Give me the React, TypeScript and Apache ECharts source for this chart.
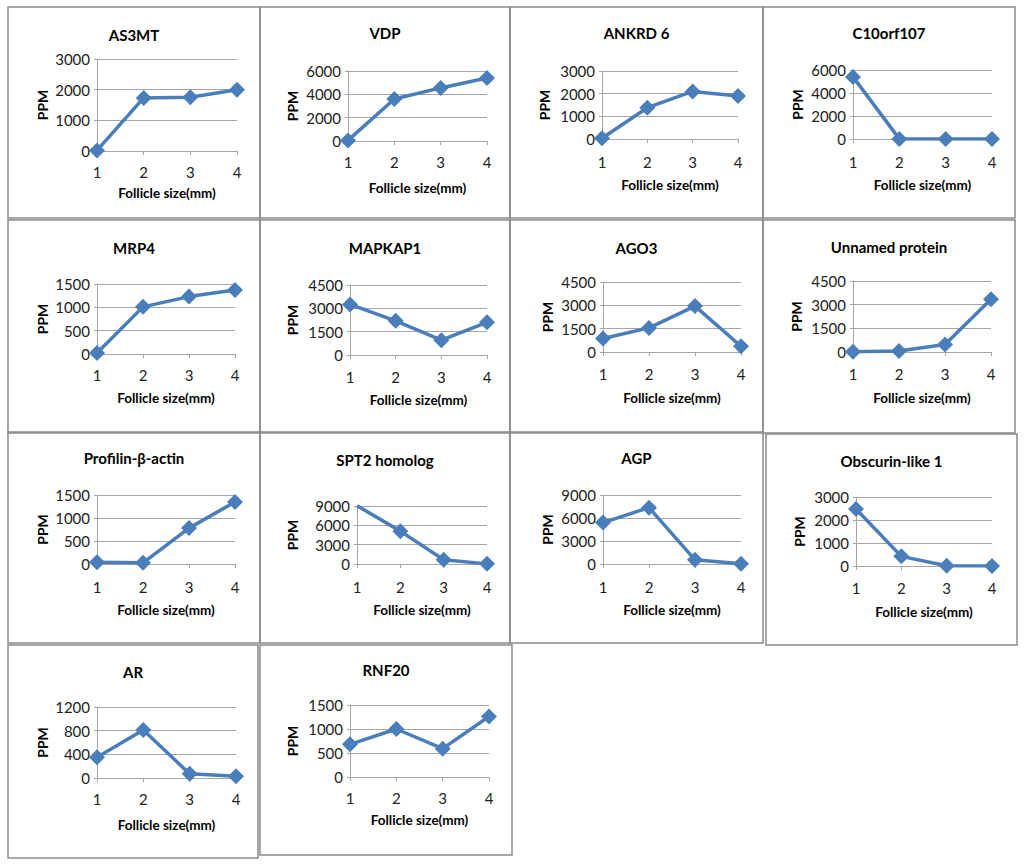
import React, { useEffect, useRef } from "react";
import * as echarts from "echarts";

const categories = ["1", "2", "3", "4"];
const titles = [
  "AS3MT", "VDP", "ANKRD 6", "C10orf107",
  "MRP4", "MAPKAP1", "AGO3", "Unnamed protein",
  "Profilin-β-actin", "SPT2 homolog", "AGP", "Obscurin-like 1",
  "AR", "RNF20",
];

const as3mt = [20, 1730, 1750, 2000];
const vdp = [50, 3600, 4550, 5400];
const ankrd6 = [30, 1380, 2100, 1900];
const c10orf107 = [5400, 10, 0, 0];
const mrp4 = [20, 1010, 1230, 1370];
const mapkap1 = [3250, 2200, 950, 2100];
const ago3 = [870, 1550, 2950, 370];
const unnamedProtein = [20, 60, 480, 3350];
const profilinBetaActin = [40, 25, 780, 1350];
const spt2Homolog = [9050, 5100, 650, 20];
const agp = [5400, 7350, 550, 30];
const obscurinLike1 = [2480, 420, 10, 0];
const ar = [350, 810, 70, 30];
const rnf20 = [680, 1000, 590, 1260];

const seriesValues = [
  as3mt, vdp, ankrd6, c10orf107,
  mrp4, mapkap1, ago3, unnamedProtein,
  profilinBetaActin, spt2Homolog, agp, obscurinLike1,
  ar, rnf20,
];

const yMaxes = [3000, 6000, 3000, 6000, 1500, 4500, 4500, 4500, 1500, 9000, 9000, 3000, 1200, 1500];
const yIntervals = [1000, 2000, 1000, 2000, 500, 1500, 1500, 1500, 500, 3000, 3000, 1000, 400, 500];

const xAxisName = "Follicle size(mm)";
const yAxisName = "PPM";

// layout: panel boxes [x, y, w, h]
const boxes = [
  [8, 7, 252, 211], [260, 7, 250, 211], [510, 7, 253, 211], [763, 7, 252, 211],
  [8, 220, 252, 213], [260, 220, 250, 213], [510, 220, 253, 213], [763, 220, 252, 213],
  [8, 432, 252, 211], [260, 432, 250, 211], [510, 432, 253, 211], [766, 434, 251, 211],
  [8, 645, 250, 213], [260, 645, 252, 210],
];
// plot layout: [left, right, top, zeroLine, titleY, xLabelY, xNameY, ppmX]
const plots = [
  [97, 237, 59, 151, 35, 172, 193, 42],
  [348, 487, 71, 141, 33, 162, 188, 292],
  [602, 738, 71, 139, 33, 162, 185, 544],
  [853, 992, 70, 139, 33, 162, 185, 797],
  [97, 235, 284, 354, 248, 375, 398, 42],
  [350, 487, 285, 355, 248, 377, 400, 292],
  [603, 741, 282, 352, 248, 374, 398, 547],
  [853, 991, 281, 352, 247, 374, 398, 796],
  [97, 235, 495, 564, 458, 587, 610, 42],
  [357, 487, 506, 564, 460, 587, 610, 292],
  [603, 741, 495, 564, 458, 587, 610, 547],
  [856, 992, 497, 566, 461, 588, 612, 799],
  [97, 236, 707, 778, 672, 799, 825, 42],
  [350, 489, 705, 777, 670, 798, 820, 292],
];

const LINE_COLOR = "#4A7EBB";
const GRID_COLOR = "#a6a6a6";
const FONT = "Lato";

function buildOption() {
  const grid: any[] = [];
  const xAxis: any[] = [];
  const yAxis: any[] = [];
  const series: any[] = [];
  const graphic: any[] = [];

  boxes.forEach((b) => {
    graphic.push({
      type: "rect",
      shape: { x: b[0], y: b[1], width: b[2], height: b[3] },
      style: { fill: "none", stroke: "#8a8a8a", lineWidth: 1.5 },
      silent: true,
    });
  });

  plots.forEach((p, i) => {
    const [l, r, t, b, ty, xly, xny, ppmx] = p;
    const box = boxes[i];
    grid.push({
      left: l,
      top: t,
      width: r - l,
      height: b - t,
      containLabel: false,
      outerBoundsMode: "none",
    });
    graphic.push({
      type: "text",
      x: box[0] + box[2] / 2,
      y: ty,
      style: {
        text: titles[i],
        align: "center",
        verticalAlign: "middle",
        font: `bold 15px ${FONT}`,
        fill: "#000",
      },
    });
    xAxis.push({
      type: "category",
      gridIndex: i,
      data: categories,
      boundaryGap: false,
      axisLine: { show: true, lineStyle: { color: GRID_COLOR, width: 1 } },
      axisTick: { show: true, length: 4, lineStyle: { color: GRID_COLOR } },
      axisLabel: {
        fontFamily: FONT,
        fontSize: 15,
        color: "#222",
        margin: xly - b - 8,
      },
      splitLine: { show: false },
      name: xAxisName,
      nameLocation: "middle",
      nameGap: xny - b - 7,
      nameTextStyle: { fontFamily: FONT, fontWeight: "bold", fontSize: 13.5, color: "#000" },
    });
    yAxis.push({
      type: "value",
      gridIndex: i,
      min: 0,
      max: yMaxes[i],
      interval: yIntervals[i],
      axisLine: { show: true, lineStyle: { color: GRID_COLOR, width: 1 } },
      axisTick: { show: true, length: 3, lineStyle: { color: GRID_COLOR } },
      axisLabel: {
        fontFamily: FONT,
        fontSize: 15,
        color: "#222",
        margin: 7,
        formatter: (v: number) => String(v),
      },
      splitLine: { show: true, lineStyle: { color: GRID_COLOR, width: 1 } },
      name: yAxisName,
      nameLocation: "middle",
      nameRotate: 90,
      nameGap: l - ppmx - 7,
      nameTextStyle: { fontFamily: FONT, fontWeight: "bold", fontSize: 14, color: "#000" },
    });
    series.push({
      type: "line",
      xAxisIndex: i,
      yAxisIndex: i,
      data: seriesValues[i],
      symbol: "diamond",
      symbolSize: 16,
      lineStyle: { color: LINE_COLOR, width: 3.5 },
      itemStyle: { color: LINE_COLOR },
      emphasis: { disabled: true },
    });
  });

  return {
    animation: false,
    backgroundColor: "#ffffff",
    grid,
    xAxis,
    yAxis,
    series,
    graphic,
  };
}

export default function App() {
  const ref = useRef<HTMLDivElement>(null);
  useEffect(() => {
    if (!ref.current) return;
    const chart = echarts.init(ref.current, undefined, { renderer: "svg" });
    chart.setOption(buildOption() as any);
    return () => chart.dispose();
  }, []);
  return (
    <div
      ref={ref}
      style={{ position: "absolute", left: 0, top: 0, width: 1024, height: 865, background: "#fff" }}
    />
  );
}
